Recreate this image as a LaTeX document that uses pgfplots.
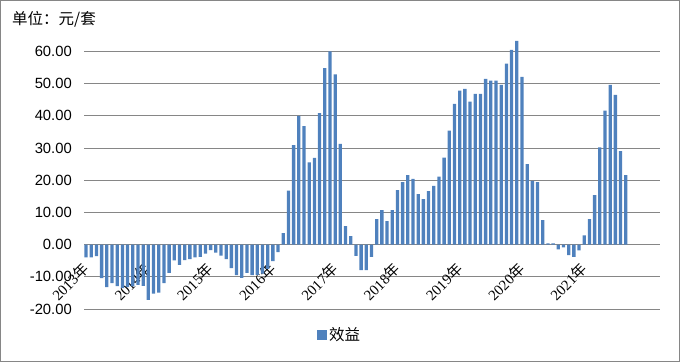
\documentclass[border=0pt]{standalone}
\usepackage{pgfplots}
\pgfplotsset{compat=1.18}
\usepackage{fontspec}
\setmainfont{Liberation Sans}
\newfontfamily\cjk{Noto Sans CJK SC}
\newfontfamily\ser{Liberation Serif}
\definecolor{barblue}{HTML}{4F81BD}
\definecolor{gridgray}{HTML}{868686}
\begin{document}
\begin{tikzpicture}
\useasboundingbox (0,0) rectangle (680bp,362bp);
\draw[gridgray, line width=1bp] (0.5bp,0.5bp) rectangle (679.5bp,361.5bp);
\node[anchor=west, inner sep=0pt, font=\fontsize{15.5bp}{18bp}\selectfont\cjk] at (12bp,343bp) {单位：元/套};
\begin{axis}[
  at={(84bp,53bp)}, anchor=south west,
  scale only axis, width=576bp, height=273.7bp,
  xmin=-0.4, xmax=110.6, ymin=-20, ymax=65,
  ybar, bar width=3.3bp,
  axis line style={draw=none},
  major tick length=0pt,
  ytick={-20,-10,0,10,20,30,40,50,60},
  yticklabels={-20.00,-10.00,0.00,10.00,20.00,30.00,40.00,50.00,60.00},
  yticklabel style={font=\fontsize{14.8bp}{17bp}\selectfont, inner sep=0pt, xshift=-12bp},
  ymajorgrids, grid style={gridgray, line width=1bp},
  xtick={0,12,24,36,48,60,72,84,96},
  xticklabels={{\ser 2013}{\cjk 年},{\ser 2014}{\cjk 年},{\ser 2015}{\cjk 年},{\ser 2016}{\cjk 年},{\ser 2017}{\cjk 年},{\ser 2018}{\cjk 年},{\ser 2019}{\cjk 年},{\ser 2020}{\cjk 年},{\ser 2021}{\cjk 年}},
  xticklabel style={font=\fontsize{14.8bp}{17bp}\selectfont, inner sep=0pt, yshift=48bp, xshift=-5bp, rotate=45, anchor=north east},
  legend style={at={(axis description cs:0.444,-0.095)}, anchor=center, draw=none, fill=none, font=\fontsize{15.5bp}{18bp}\selectfont\cjk},
  legend image code/.code={\fill[barblue] (0bp,-5bp) rectangle (10bp,5bp);},
]
\addplot[fill=barblue, draw=none, bar shift=0pt] coordinates {
(0,-4.0) (1,-4.0) (2,-3.6) (3,-10.4) (4,-13.2) (5,-12.0) (6,-12.9) (7,-13.5) (8,-13.2) (9,-13.0)
(10,-12.5) (11,-12.8) (12,-17.2) (13,-15.2) (14,-14.9) (15,-12.0) (16,-8.8) (17,-4.9) (18,-6.3) (19,-4.8)
(20,-4.5) (21,-4.0) (22,-3.8) (23,-2.8) (24,-1.7) (25,-2.5) (26,-3.4) (27,-4.5) (28,-7.3) (29,-9.5)
(30,-10.3) (31,-8.8) (32,-9.5) (33,-9.4) (34,-9.0) (35,-7.5) (36,-5.1) (37,-2.3) (38,3.6) (39,16.8)
(40,30.9) (41,40.0) (42,36.8) (43,25.5) (44,26.9) (45,40.8) (46,54.8) (47,60.0) (48,52.9) (49,31.3)
(50,5.7) (51,2.6) (52,-3.5) (53,-7.9) (54,-7.9) (55,-3.8) (56,7.9) (57,10.7) (58,7.3) (59,10.7)
(60,16.9) (61,19.4) (62,21.6) (63,20.4) (64,15.7) (65,14.1) (66,16.6) (67,18.2) (68,21.1) (69,27.0)
(70,35.4) (71,43.7) (72,47.8) (73,48.4) (74,44.4) (75,46.8) (76,46.8) (77,51.5) (78,50.9) (79,50.9)
(80,49.6) (81,56.2) (82,60.5) (83,63.3) (84,52.1) (85,25.0) (86,19.8) (87,19.4) (88,7.6) (89,0.4)
(90,0.4) (91,-1.5) (92,-0.9) (93,-3.3) (94,-3.8) (95,-1.8) (96,2.9) (97,7.9) (98,15.4) (99,30.2)
(100,41.6) (101,49.6) (102,46.5) (103,29.0) (104,21.6)
};
\addlegendentry{效益}
\end{axis}
\end{tikzpicture}
\end{document}
